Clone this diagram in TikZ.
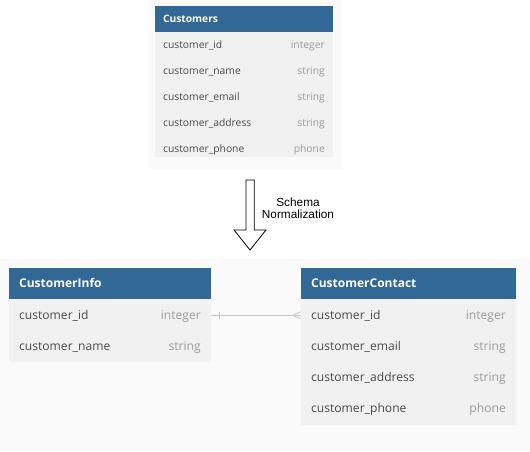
\documentclass[tikz,border=0pt]{standalone}
\usepackage{fontspec}
\usetikzlibrary{calc}
\setmainfont{Open Sans}
\newfontfamily\labelfont{Liberation Sans}
\definecolor{hdrblue}{HTML}{316896}
\definecolor{rowbg}{HTML}{F1F1F1}
\definecolor{panelbg}{HTML}{FAFAFA}
\definecolor{nametxt}{HTML}{4A4A4A}
\definecolor{typetxt}{HTML}{9B9B9B}
\definecolor{reltxt}{HTML}{C8C8C8}
\tikzset{
  hdrtext/.style={anchor=mid west, inner sep=0pt, text=white, font=\bfseries},
  nametext/.style={anchor=mid west, inner sep=0pt, text=nametxt},
  typetext/.style={anchor=mid east, inner sep=0pt, text=typetxt},
  relline/.style={draw=reltxt, line width=0.8pt},
}
\begin{document}
\begin{tikzpicture}[x=1pt,y=-1pt]
\useasboundingbox (0,0) rectangle (530,451);
\fill[white] (0,0) rectangle (530,451);
% panels
\fill[panelbg] (149,0) rectangle (342,169);
\fill[panelbg] (0,259) rectangle (530,451);

% ---- Customers (top)
\fill[hdrblue] (155,6) rectangle (333,32);
\fill[rowbg] (155,32) rectangle (333,157);
\begin{scope}[every node/.append style={font=\fontsize{10.3}{12}\selectfont}]
\node[hdrtext, font=\fontsize{10.2}{12}\selectfont\bfseries] (custhdr) at (163,19.5) {Customers};
\node[nametext] (c1n) at (163,45.5) {customer\_id};
\node[typetext] (c1t) at (325,45.5) {integer};
\node[nametext] (c2n) at (163,71.5) {customer\_name};
\node[typetext] (c2t) at (325,71.5) {string};
\node[nametext] (c3n) at (163,97.5) {customer\_email};
\node[typetext] (c3t) at (325,97.5) {string};
\node[nametext] (c4n) at (163,123.5) {customer\_address};
\node[typetext] (c4t) at (325,123.5) {string};
\node[nametext] (c5n) at (163,149.5) {customer\_phone};
\node[typetext] (c5t) at (325,149.5) {phone};
\end{scope}

% ---- block arrow
\draw[black, line width=0.8pt, fill=white, line join=miter]
  (246,180) -- (254.3,180) -- (254.3,230) -- (266,230) -- (250,250) -- (234,230) -- (246,230) -- cycle;
\node[align=center, inner sep=0pt, font=\labelfont\fontsize{11.8}{11.8}\selectfont] (lbl) at (298,208) {Schema\\Normalization};

% ---- CustomerInfo
\fill[hdrblue] (9,268.3) rectangle (210.7,299.3);
\fill[rowbg] (9,299.3) rectangle (210.7,362.3);
\begin{scope}[every node/.append style={font=\fontsize{12.1}{14}\selectfont}]
\node[hdrtext, font=\fontsize{12}{14}\selectfont\bfseries] (infohdr) at (19,285) {CustomerInfo};
\node[nametext] (i1n) at (19,317) {customer\_id};
\node[typetext] (i1t) at (201,317) {integer};
\node[nametext] (i2n) at (19,347.8) {customer\_name};
\node[typetext] (i2t) at (201,347.8) {string};
\end{scope}

% ---- CustomerContact
\fill[hdrblue] (301,268.3) rectangle (515.7,299.3);
\fill[rowbg] (301,299.3) rectangle (515.7,425);
\begin{scope}[every node/.append style={font=\fontsize{12.1}{14}\selectfont}]
\node[hdrtext, font=\fontsize{12}{14}\selectfont\bfseries] (conthdr) at (311,285) {CustomerContact};
\node[nametext] (k1n) at (311,317) {customer\_id};
\node[typetext] (k1t) at (506,317) {integer};
\node[nametext] (k2n) at (311,347.8) {customer\_email};
\node[typetext] (k2t) at (506,347.8) {string};
\node[nametext] (k3n) at (311,379.3) {customer\_address};
\node[typetext] (k3t) at (506,379.3) {string};
\node[nametext] (k4n) at (311,410.3) {customer\_phone};
\node[typetext] (k4t) at (506,410.3) {phone};
\end{scope}

% ---- relationship
\coordinate (relA) at (210.7,315.3);
\coordinate (relB) at (301,315.3);
\draw[relline] (relA) -- (relB);
\draw[relline] ($(relA)+(9,-3.5)$) -- ($(relA)+(9,3.5)$);
\draw[relline] ($(relB)+(0,-3.5)$) -- ($(relB)+(-8.5,0)$) -- ($(relB)+(0,3.5)$);
\end{tikzpicture}
\end{document}
